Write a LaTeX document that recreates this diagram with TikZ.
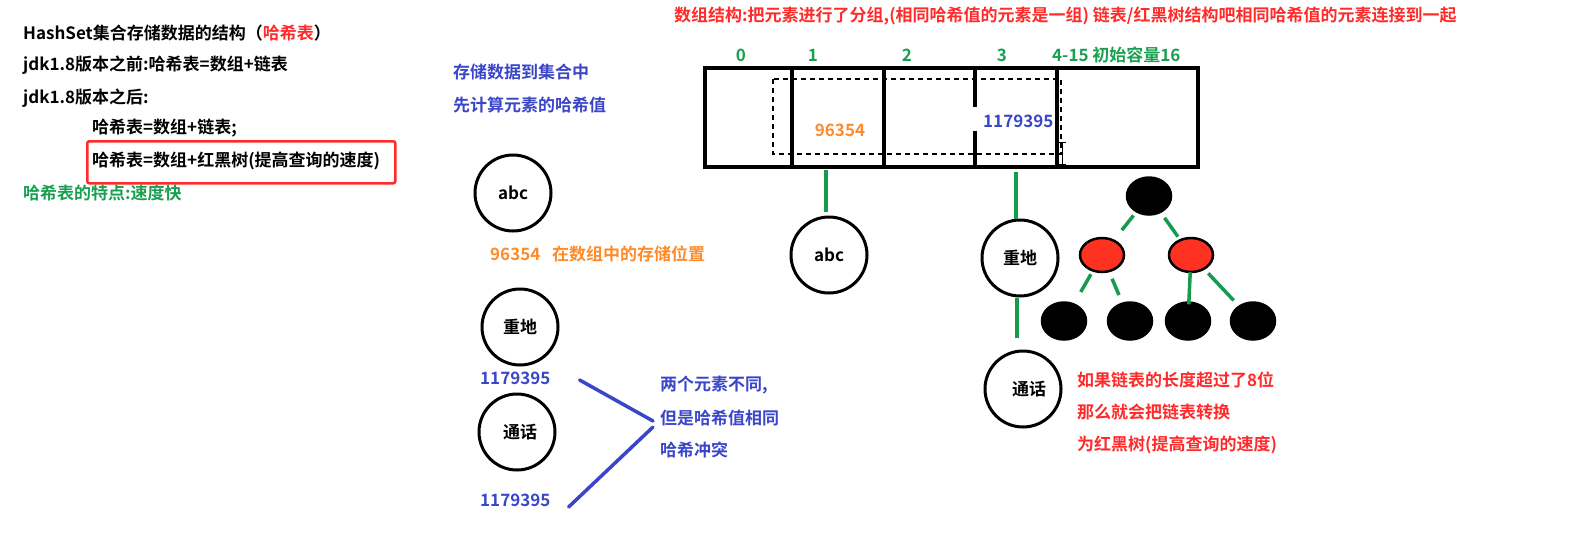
\documentclass[tikz,border=0pt]{standalone}
\usepackage{fontspec}
\setmainfont{Noto Sans CJK SC}[BoldFont={Noto Sans CJK SC Bold}]
\usetikzlibrary{shapes.geometric}
\definecolor{tred}{HTML}{FF2A2A}
\definecolor{tblue}{HTML}{3A46C8}
\definecolor{torange}{HTML}{FF8A28}
\definecolor{tgreen}{HTML}{18A050}
\definecolor{lgreen}{HTML}{169A4C}
\definecolor{fillred}{HTML}{FF3222}
\begin{document}
\begin{tikzpicture}[x=1pt,y=-1pt,
  every node/.style={font=\fontsize{17}{20}\selectfont\bfseries},
  txt/.style={anchor=west, inner sep=0pt},
  ctxt/.style={inner sep=0pt},
  cell/.style={draw, line width=4pt, minimum height=99pt, inner sep=0pt, outer sep=0pt, anchor=north west},
  elem/.style={circle, draw, line width=3pt, minimum size=76pt, inner sep=0pt},
  tnode/.style={ellipse, draw, line width=2.5pt, fill=black, minimum width=44pt, minimum height=37pt, inner sep=0pt},
  rnode/.style={tnode, fill=fillred, minimum height=34pt},
  link/.style={lgreen, line width=3.5pt},
  blink/.style={tblue, line width=3.5pt, line cap=round}]
\useasboundingbox (0,0) rectangle (1585,550);

% left text block
\node[txt] (l1) at (23,33) {HashSet集合存储数据的结构（{\color{tred}哈希表}）};
\node[txt] (l2) at (23,65) {jdk1.8版本之前:哈希表=数组+链表};
\node[txt] (l3) at (23,98) {jdk1.8版本之后:};
\node[txt] (l4) at (92,128) {哈希表=数组+链表;};
\node[draw=tred, line width=2.5pt, rounded corners=2pt, minimum width=308pt, minimum height=42pt, anchor=north west, inner sep=0pt] (box) at (86,140) {};
\node[txt] (l5) at (92,161) {哈希表=数组+红黑树(提高查询的速度)};
\node[txt, text=tgreen] (l6) at (23,193) {哈希表的特点:速度快};

% middle left column
\node[txt, text=tblue] (m1) at (453,72) {存储数据到集合中};
\node[txt, text=tblue] (m2) at (453,105) {先计算元素的哈希值};
\node[elem] (abc1) at (513,193) {abc};
\node[txt, text=torange] (h1) at (490,254) {96354};
\node[txt, text=torange] (h1t) at (552,254) {在数组中的存储位置};
\node[elem] (zd1) at (520,327) {重地};
\node[txt, text=tblue] (hA) at (480,378) {1179395};
\node[elem] (th1) at (517,432) {\hspace{6pt}通话};
\node[txt, text=tblue] (hB) at (480,500) {1179395};
\node[txt, text=tblue] (c1) at (660,385) {两个元素不同,};
\node[txt, text=tblue] (c2) at (660,418) {但是哈希值相同};
\node[txt, text=tblue] (c3) at (660,450) {哈希冲突};
\coordinate (meetA) at (653,421);
\coordinate (meetB) at (653,427);
\draw[blink] ([xshift=29pt,yshift=-2pt]hA.east) -- (meetA);
\draw[blink] ([xshift=18pt,yshift=-7pt]hB.east) -- (meetB);

% title
\node[txt, text=tred] (title) at (674,16) {数组结构:把元素进行了分组,(相同哈希值的元素是一组) 链表/红黑树结构吧相同哈希值的元素连接到一起};

% array
\node[txt, text=tgreen, anchor=center] (i0) at (741,55) {0};
\node[txt, text=tgreen, anchor=center] (i1) at (813,55) {1};
\node[txt, text=tgreen, anchor=center] (i2) at (907,55) {2};
\node[txt, text=tgreen, anchor=center] (i3) at (1002,55) {3};
\node[txt, text=tgreen] (i4) at (1052,55) {4-15 初始容量16};
\node[cell, minimum width=87pt] (c0) at (705,68) {};
\node[cell, minimum width=92pt] (cl1) at (792,68) {};
\node[cell, minimum width=91pt] (cl2) at (884,68) {};
\node[cell, minimum width=82pt] (cl3) at (975,68) {};
\node[cell, minimum width=141pt] (cl4) at (1057,68) {};
\draw[line width=1.5pt, dash pattern=on 5pt off 4pt] (773,79) rectangle (1061,154);
\fill[white] (971,107) rectangle (979,131);
\node[ctxt, text=torange] (v1) at (840,130) {96354};
\node[txt, text=tblue] (v3) at (983,121) {1179395};
% cursor
\draw[line width=1pt] (1062,142) -- (1062,164) (1058,142) -- (1066,142) (1058,164) -- (1066,164);

% chains
\node[elem] (abc2) at (829,255) {abc};
\node[elem] (zd2) at (1020,258) {\raisebox{-5pt}{重地}};
\node[elem] (th2) at (1023,389) {\hspace{12pt}\raisebox{-4pt}{通话}};
\draw[link] ([yshift=-3pt]cl1.south -| abc2.north) ++(-3,0) -- ++(0,42);
\draw[link] ([yshift=-5pt]cl3.south -| zd2.north) ++(-4,0) -- ([xshift=-4pt]zd2.north);
\draw[link] ([xshift=-3pt]zd2.south) -- ++(0,40);

% tree
\node[tnode] (root) at (1149,196) {};
\node[rnode] (rl) at (1102,255) {};
\node[rnode] (rr) at (1191,255) {};
\node[tnode] (b1) at (1064,321) {};
\node[tnode] (b2) at (1130,321) {};
\node[tnode] (b3) at (1188,321) {};
\node[tnode] (b4) at (1253,321) {};
\draw[link, shorten <=4pt, shorten >=12pt] (root) -- (rl);
\draw[link, shorten <=6pt, shorten >=3pt] (root) -- (rr);
\draw[link, shorten <=3pt, shorten >=13pt] (rl) -- (b1);
\draw[link, shorten <=7pt, shorten >=8pt] (rl) -- (b2);
\draw[link, shorten <=-1pt, shorten >=-3pt] (rr) -- (b3);
\draw[link, shorten <=5pt, shorten >=7pt] (rr) -- (b4);

% red note
\node[txt, text=tred] (n1) at (1077,380) {如果链表的长度超过了8位};
\node[txt, text=tred] (n2) at (1077,412) {那么就会把链表转换};
\node[txt, text=tred] (n3) at (1077,445) {为红黑树(提高查询的速度)};
\end{tikzpicture}
\end{document}
